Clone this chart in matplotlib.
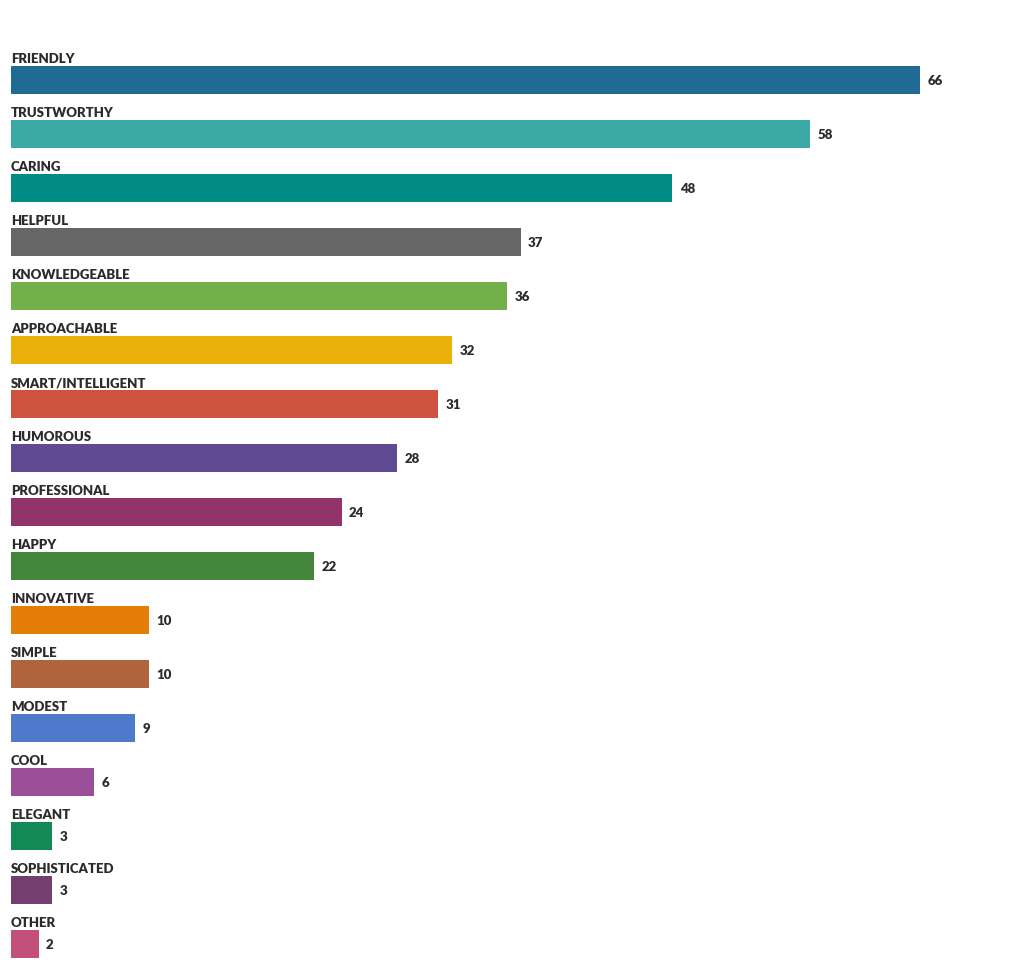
import matplotlib.pyplot as plt

# données
labels = ["FRIENDLY", "TRUSTWORTHY", "CARING", "HELPFUL", "KNOWLEDGEABLE",
          "APPROACHABLE", "SMART/INTELLIGENT", "HUMOROUS", "PROFESSIONAL",
          "HAPPY", "INNOVATIVE", "SIMPLE", "MODEST", "COOL", "ELEGANT",
          "SOPHISTICATED", "OTHER"]
values = [66, 58, 48, 37, 36, 32, 31, 28, 24, 22, 10, 10, 9, 6, 3, 3, 2]
colors = ["#1f6b96", "#3aa8a4", "#008b84", "#666666", "#74b04a",
          "#ecb00a", "#cf523f", "#604a91", "#93336b", "#43853b",
          "#e37d06", "#b0643c", "#4f7acb", "#9b4f98", "#138a56",
          "#733f6e", "#c1507a"]

W, H = 1020, 979
fig = plt.figure(figsize=(W / 100, H / 100), dpi=100)
# axe : x de 11 px à 920 px (= 66), y de 54 px à 972 px
ax = fig.add_axes([11 / W, 1 - 972 / H, (920 - 11) / W, (972 - 54) / H])
ax.set_xlim(0, 66)
ax.set_ylim(len(labels) - 0.5, -0.5)
ax.axis("off")

bh = 28 / 54
pos = list(range(len(labels)))
ax.barh(pos, values, height=bh, color=colors, linewidth=0)

txt = "#2b2b2b"
for i, (lab, v) in enumerate(zip(labels, values)):
    ax.text(0, i - bh / 2 - 0.035, lab, ha="left", va="bottom", fontsize=9.5,
            fontweight="heavy", family="Lato", color=txt, clip_on=False)
    ax.text(v + 0.55, i, str(v), ha="left", va="center", fontsize=9.5,
            fontweight="heavy", family="Lato", color=txt, clip_on=False)

plt.savefig("out.png", dpi=100)
